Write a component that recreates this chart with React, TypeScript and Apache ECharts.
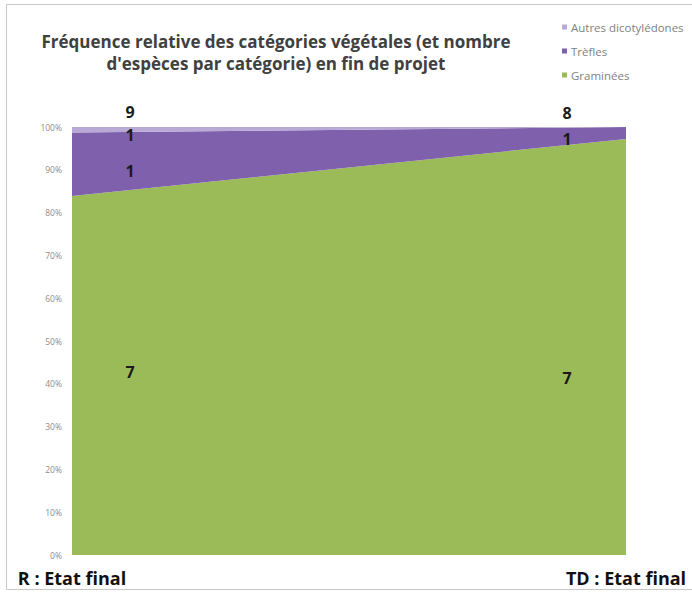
import React, { useEffect, useRef } from "react";
import * as echarts from "echarts";

const categories = ["R : Etat final", "TD : Etat final"];
const graminees = [83.9, 97.2];
const trefles = [14.8, 2.8];
const autres = [1.3, 0];
const countGraminees = [7, 7];
const countTrefles = [1, 1];
const countAutres = [1, 0];
const countTotal = [9, 8];
const yTicks = [0, 10, 20, 30, 40, 50, 60, 70, 80, 90, 100];

export default function App() {
  const ref = useRef<HTMLDivElement>(null);
  useEffect(() => {
    const chart = echarts.init(ref.current!, null, { renderer: "svg" });
    const lblStyle = { fontFamily: "Open Sans", fontWeight: "bold", fontSize: 16, color: "#1a1a1a" };
    const mk = (idx: number, y: number, text: number, dy = 0) => ({
      coord: [idx, y],
      symbol: "rect",
      symbolSize: 1,
      itemStyle: { color: "rgba(0,0,0,0)" },
      label: {
        show: true,
        position: "inside",
        formatter: String(text),
        offset: [idx === 0 ? 58 : -59, dy],
        ...lblStyle,
      },
    });
    chart.setOption({
      animation: false,
      backgroundColor: "#ffffff",
      title: {
        text: "Fréquence relative des catégories végétales (et nombre\nd'espèces par catégorie) en fin de projet",
        left: 271,
        top: 25,
        textAlign: "center",
        textStyle: { fontFamily: "Open Sans", fontWeight: "bold", fontSize: 17, color: "#404040", lineHeight: 22 },
      },
      legend: {
        orient: "vertical",
        left: 557,
        top: 16,
        itemWidth: 5,
        itemHeight: 5,
        itemGap: 12,
        icon: "rect",
        data: ["Autres dicotylédones", "Trèfles", "Graminées"],
        textStyle: { fontFamily: "Open Sans", fontSize: 11.5, color: "#7f7f7f", padding: [0, 0, 0, -1] },
      },
      grid: { left: 72, right: 66, top: 127, bottom: 37 },
      xAxis: {
        type: "category",
        boundaryGap: false,
        data: categories,
        axisLine: { show: false },
        axisTick: { show: false },
        axisLabel: { margin: 14, fontFamily: "Open Sans", fontWeight: "bold", fontSize: 18, color: "#111" },
      },
      yAxis: {
        type: "value",
        min: 0,
        max: 100,
        interval: 10,
        splitLine: { show: false },
        axisLine: { show: false },
        axisLabel: {
          formatter: (v: number) => (yTicks.includes(v) ? v + "%" : ""),
          fontFamily: "Open Sans",
          fontSize: 8.5,
          color: "#8c8c8c",
          margin: 10,
        },
      },
      graphic: [
        {
          type: "rect",
          shape: { x: 6.5, y: 4.5, width: 700, height: 585 },
          style: { fill: "none", stroke: "#c8c8c8", lineWidth: 1 },
          silent: true,
        },
      ],
      series: [
        {
          name: "Graminées",
          type: "line",
          stack: "total",
          data: graminees,
          symbol: "none",
          lineStyle: { width: 0 },
          areaStyle: { color: "#9BBB59", opacity: 1 },
          itemStyle: { color: "#9BBB59" },
          markPoint: {
            data: [mk(0, 42.8, countGraminees[0]), mk(1, 41.4, countGraminees[1])],
          },
        },
        {
          name: "Trèfles",
          type: "line",
          stack: "total",
          data: trefles,
          symbol: "none",
          lineStyle: { width: 0 },
          areaStyle: { color: "#7F60AD", opacity: 1 },
          itemStyle: { color: "#7F60AD" },
          markPoint: {
            data: [mk(0, 89.7, countTrefles[0]), mk(1, 97.2, countTrefles[1])],
          },
        },
        {
          name: "Autres dicotylédones",
          type: "line",
          stack: "total",
          data: autres,
          symbol: "none",
          lineStyle: { width: 0 },
          areaStyle: { color: "#B9A9D6", opacity: 1 },
          itemStyle: { color: "#B9A9D6" },
          markPoint: {
            data: [
              mk(0, 98.1, countAutres[0]),
              mk(0, 100, countTotal[0], -15),
              mk(1, 100, countTotal[1], -14),
            ],
          },
        },
      ],
    });
    return () => chart.dispose();
  }, []);
  return <div ref={ref} style={{ position: "fixed", left: 0, top: 0, width: 692, height: 592 }} />;
}
